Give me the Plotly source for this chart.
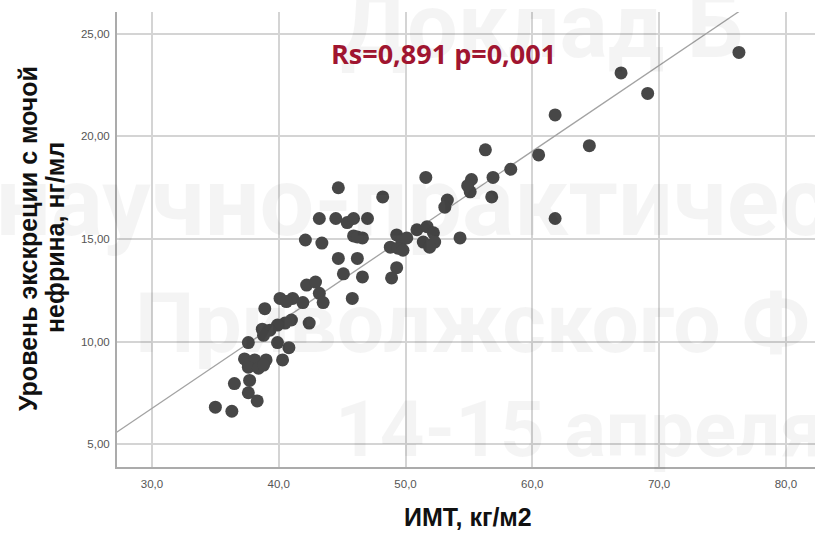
import plotly.graph_objects as go

# Data
bmi = [76.3, 67.0, 69.1, 61.8, 64.5, 60.5, 58.3, 56.9, 56.3, 56.8, 61.8, 55.2, 55.1, 54.9,
       53.3, 53.1, 51.6, 48.2, 54.3, 50.9, 51.7, 52.2, 51.4, 52.3, 51.9, 49.3, 49.7, 48.8,
       49.4, 50.1, 49.8, 49.3, 48.9, 44.7, 43.2, 44.5, 45.4, 45.9, 47.0, 42.1, 43.4, 45.9,
       46.6, 46.2, 44.7, 46.2, 45.1, 46.6, 42.2, 42.9, 43.2, 43.5, 45.8, 40.1, 41.1, 41.9,
       40.6, 38.9, 42.4, 41.0, 40.5, 39.9, 38.7, 39.3, 38.8, 37.6, 39.9, 40.8, 37.3, 38.1,
       39.0, 40.3, 37.6, 38.4, 38.8, 36.5, 37.7, 37.6, 38.3, 35.0, 36.3]
nephrin = [24.1, 23.1, 22.1, 21.05, 19.55, 19.1, 18.4, 18.0, 19.35, 17.05, 16.0, 17.9, 17.3, 17.6,
           16.9, 16.55, 18.0, 17.05, 15.05, 15.45, 15.6, 15.3, 14.85, 14.85, 14.6, 15.2, 14.95, 14.6,
           14.55, 15.05, 14.45, 13.6, 13.1, 17.5, 16.0, 16.0, 15.8, 16.0, 16.0, 14.95, 14.8, 15.15,
           15.05, 15.1, 14.05, 14.05, 13.3, 13.15, 12.75, 12.9, 12.35, 11.9, 12.1, 12.1, 12.1, 11.9,
           11.95, 11.6, 10.9, 11.05, 10.9, 10.8, 10.6, 10.55, 10.3, 9.95, 9.95, 9.7, 9.15, 9.1,
           9.1, 9.1, 8.75, 8.7, 8.85, 7.95, 8.1, 7.5, 7.1, 6.8, 6.6]

x_ticks = [30, 40, 50, 60, 70, 80]
y_ticks = [5, 10, 15, 20, 25]
x_range = [27.24, 82.3]
y_range = [3.88, 26.07]

fit_intercept = -5.80
fit_slope = 0.418

stat_text = "Rs=0,891 p=0,001"
x_title = "ИМТ, кг/м2"
y_title_1 = "Уровень экскреции с мочой"
y_title_2 = "нефрина, нг/мл"
watermark = ["Доклад Б", "научно-практичес", "Приволжского Ф", "14-15 апреля"]

fit_x = [x_range[0] - 5, x_range[1] + 5]
fit_y = [fit_intercept + fit_slope * v for v in fit_x]

fig = go.Figure()
fig.add_trace(go.Scatter(x=fit_x, y=fit_y, mode="lines",
                         line=dict(color="#a3a3a3", width=1.3), hoverinfo="skip",
                         showlegend=False))
fig.add_trace(go.Scatter(x=bmi, y=nephrin, mode="markers",
                         marker=dict(size=13, color="#474747", line=dict(width=0)),
                         showlegend=False))

W, H = 815, 534
ml, mr, mt, mb = 117, 0, 12, 67

axis_common = dict(showline=True, linecolor="#ababab", linewidth=2, mirror=False,
                   showgrid=True, gridcolor="#d4d4d4", gridwidth=1.6, zeroline=False,
                   ticks="", tickfont=dict(family="Liberation Sans, Arial", size=11.5, color="#555555"))

fig.update_layout(
    width=W, height=H,
    margin=dict(l=ml, r=mr, t=mt, b=mb),
    paper_bgcolor="white", plot_bgcolor="white",
    separators=", ",
    xaxis=dict(range=x_range, tickvals=x_ticks, tickformat=".1f", ticklabelstandoff=5, **axis_common),
    yaxis=dict(range=y_range, tickvals=y_ticks, tickformat=".2f", ticklabelstandoff=3, **axis_common),
)

PW = W - ml - mr
PH = H - mt - mb

def px_x(p):
    return (p - ml) / PW

def px_y(p):
    return (H - mb - p) / PH

annos = []
# faint watermark (drawn first)
wm_pos = [(338, 26, 90), (-6, 202, 97), (133, 323, 84), (333, 429, 78)]
for t, (xx, yy, s) in zip(watermark, wm_pos):
    annos.append(dict(text=t, xref="paper", yref="paper", x=px_x(xx), y=px_y(yy),
                      xanchor="left", yanchor="middle", showarrow=False,
                      font=dict(family="Roboto", size=s, color="rgba(0,0,0,0.045)", weight="bold")))
# axis titles
annos.append(dict(text=x_title, xref="paper", yref="paper", x=px_x(468), y=px_y(517),
                  xanchor="center", yanchor="middle", showarrow=False,
                  font=dict(family="Liberation Sans, Arial", size=25, color="#111111", weight="bold")))
annos.append(dict(text=y_title_1, xref="paper", yref="paper", x=px_x(28), y=px_y(239),
                  xanchor="center", yanchor="middle", showarrow=False, textangle=-90,
                  font=dict(family="Liberation Sans, Arial", size=25, color="#111111", weight="bold")))
annos.append(dict(text=y_title_2, xref="paper", yref="paper", x=px_x(55), y=px_y(238),
                  xanchor="center", yanchor="middle", showarrow=False, textangle=-90,
                  font=dict(family="Liberation Sans, Arial", size=25, color="#111111", weight="bold")))
# statistic
annos.append(dict(text=stat_text, xref="paper", yref="paper", x=px_x(443), y=px_y(53),
                  xanchor="center", yanchor="middle", showarrow=False,
                  font=dict(family="Open Sans", size=27, color="#a01530", weight="bold")))

fig.update_layout(annotations=annos)
fig.write_html("out.html")
